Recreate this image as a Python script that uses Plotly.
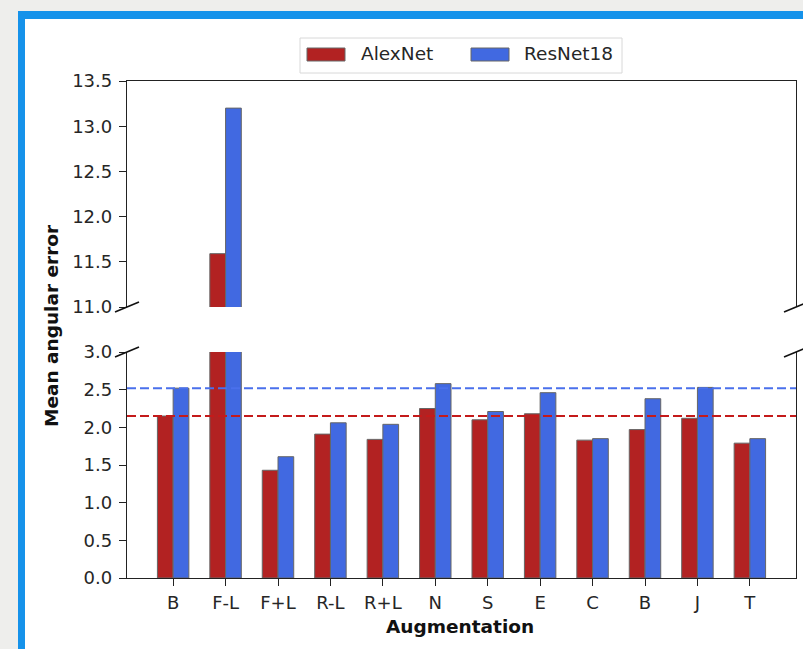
import plotly.graph_objects as go

# ---- data ----
labels = ["B", "F-L", "F+L", "R-L", "R+L", "N", "S", "E", "C", "B", "J", "T"]
alexnet = [2.15, 11.59, 1.43, 1.91, 1.84, 2.25, 2.10, 2.18, 1.83, 1.97, 2.12, 1.79]
resnet18 = [2.52, 13.20, 1.61, 2.06, 2.04, 2.58, 2.21, 2.46, 1.85, 2.38, 2.53, 1.85]
baseline_alexnet = 2.15
baseline_resnet18 = 2.52
top_ticks = [11.0, 11.5, 12.0, 12.5, 13.0, 13.5]
bottom_ticks = [0.0, 0.5, 1.0, 1.5, 2.0, 2.5, 3.0]

RED = "#b22222"
BLUE = "#4169e1"
W, H = 803, 649
ML, MR, MT, MB = 127, 7, 81, 71
PW, PH = W - ML - MR, H - MT - MB
FONT = "DejaVu Sans"
TXT = "#262626"


def px(xp):
    return (xp - ML) / PW


def py(yp):
    return (H - MB - yp) / PH


xs = list(range(len(labels)))
fig = go.Figure()
for xa, ya in (("x", "y"), ("x2", "y2")):
    fig.add_trace(go.Bar(x=xs, y=alexnet, name="AlexNet", width=0.3, offset=-0.3,
                         marker=dict(color=RED, line=dict(color="#666666", width=1)),
                         xaxis=xa, yaxis=ya, showlegend=False))
    fig.add_trace(go.Bar(x=xs, y=resnet18, name="ResNet18", width=0.3, offset=0.0,
                         marker=dict(color=BLUE, line=dict(color="#666666", width=1)),
                         xaxis=xa, yaxis=ya, showlegend=False))

split_top = py(307)
split_bot = py(352)
axis_common = dict(showgrid=False, zeroline=False, linecolor="#222222", linewidth=1.3,
                   ticks="outside", ticklen=7, tickwidth=1.2, tickcolor="#222222",
                   tickfont=dict(family=FONT, size=18, color=TXT))
xr = [-0.88, len(labels) - 1 + 0.88]
fig.update_layout(
    width=W, height=H,
    margin=dict(l=ML, r=MR, t=MT, b=MB, pad=0),
    paper_bgcolor="#eeeeec", plot_bgcolor="rgba(0,0,0,0)",
    xaxis=dict(axis_common, range=xr, tickvals=xs, ticktext=labels, anchor="y",
               showline=True, mirror=False, domain=[0, 1], ticklabelstandoff=1),
    xaxis2=dict(axis_common, range=xr, matches="x", anchor="y2", side="top",
                showline=True, mirror=False, ticks="", showticklabels=False, domain=[0, 1]),
    yaxis=dict(axis_common, range=[0, 3.0], tickvals=bottom_ticks, tickformat=".1f",
               domain=[0, split_bot], anchor="x", showline=True, mirror=True,
               ticklabelstandoff=3),
    yaxis2=dict(axis_common, range=[11.0, 13.5], tickvals=top_ticks, tickformat=".1f",
                domain=[split_top, 1], anchor="x2", showline=True, mirror=True,
                ticklabelstandoff=3),
    showlegend=False,
)

shapes = []
# frame
shapes.append(dict(type="rect", xref="paper", yref="paper", layer="below",
                   x0=px(18), x1=px(W + 30), y0=py(11), y1=py(H + 30),
                   fillcolor="#1592ea", line=dict(width=0)))
shapes.append(dict(type="rect", xref="paper", yref="paper", layer="below",
                   x0=px(25), x1=px(W + 30), y0=py(19), y1=py(H + 30),
                   fillcolor="#ffffff", line=dict(width=0)))
# baselines
shapes.append(dict(type="line", xref="x domain", yref="y", x0=0, x1=1,
                   y0=baseline_resnet18, y1=baseline_resnet18,
                   line=dict(color="#4a70ec", width=2, dash="9px,4px")))
shapes.append(dict(type="line", xref="x domain", yref="y", x0=0, x1=1,
                   y0=baseline_alexnet, y1=baseline_alexnet,
                   line=dict(color="#c41a1a", width=2, dash="9px,4px")))
# break marks
for xc in (ML, W - MR):
    for yc in (307, 352):
        shapes.append(dict(type="line", xref="paper", yref="paper",
                           x0=px(xc - 12), x1=px(xc + 12), y0=py(yc + 5), y1=py(yc - 5),
                           line=dict(color="#111111", width=1.6)))
# legend
shapes.append(dict(type="rect", xref="paper", yref="paper",
                   x0=px(300), x1=px(622), y0=py(73), y1=py(38),
                   fillcolor="rgba(255,255,255,0.8)", line=dict(color="#d8d8d8", width=1)))
shapes.append(dict(type="rect", xref="paper", yref="paper",
                   x0=px(307), x1=px(345), y0=py(61), y1=py(48),
                   fillcolor=RED, line=dict(color="#666666", width=1)))
shapes.append(dict(type="rect", xref="paper", yref="paper",
                   x0=px(471), x1=px(509), y0=py(61), y1=py(48),
                   fillcolor=BLUE, line=dict(color="#666666", width=1)))
fig.update_layout(shapes=shapes)

ann = [
    dict(text="AlexNet", x=px(359), y=py(54), xref="paper", yref="paper",
         xanchor="left", yanchor="middle", showarrow=False,
         font=dict(family=FONT, size=18.5, color=TXT)),
    dict(text="ResNet18", x=px(522), y=py(54), xref="paper", yref="paper",
         xanchor="left", yanchor="middle", showarrow=False,
         font=dict(family=FONT, size=18.5, color=TXT)),
    dict(text="<b>Mean angular error</b>", x=px(51), y=py(326), xref="paper", yref="paper",
         xanchor="center", yanchor="middle", textangle=-90, showarrow=False,
         font=dict(family=FONT, size=18.5, color="#111111")),
    dict(text="<b>Augmentation</b>", x=px(460), y=py(626), xref="paper", yref="paper",
         xanchor="center", yanchor="middle", showarrow=False,
         font=dict(family=FONT, size=18.5, color="#111111")),
]
fig.update_layout(annotations=ann)

fig.write_html("out.html", config={"displayModeBar": False},
               post_script="document.body.style.margin='0px';document.body.style.overflow='hidden';")
